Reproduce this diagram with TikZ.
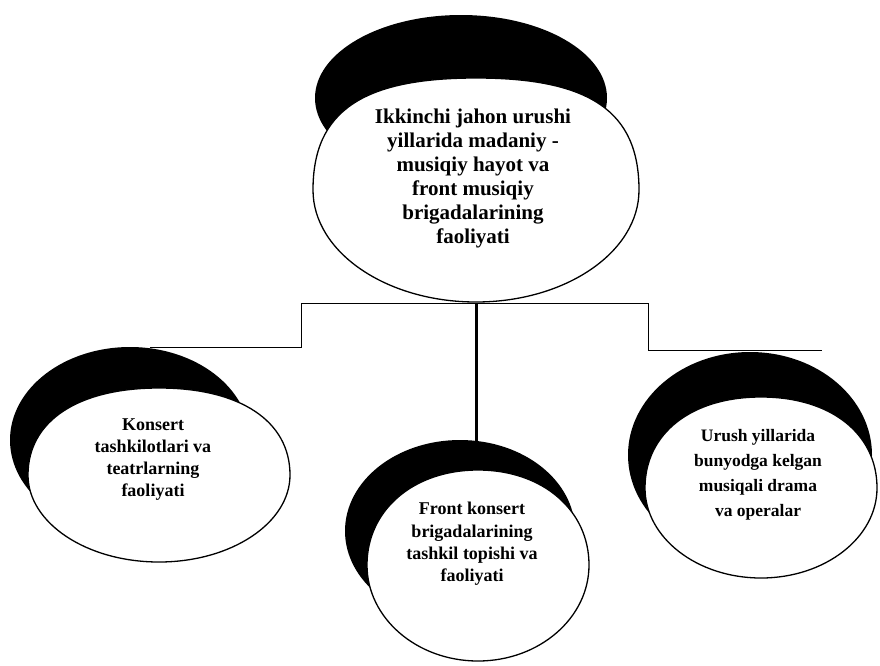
\documentclass[tikz,border=0pt]{standalone}
\usepackage{fontspec}
\setmainfont{Liberation Serif}
\begin{document}
\begin{tikzpicture}[x=1pt,y=-1pt,
  shadowfill/.style={fill=black,draw=none},
  whitebody/.style={fill=white,draw=black,line width=1.3pt},
  thinline/.style={draw=black,line width=1pt},
  thickline/.style={draw=black,line width=3pt},
  bubbletext/.style={align=center,font=\bfseries,inner sep=0pt}]
\newcommand\WhiteShape[6]{%
  \path[whitebody] ({#1-#3},#2)
    .. controls ({#1-#3},{#2-#6*#4}) and ({#1-#6*#3},{#2-#4}) .. ({#1},{#2-#4})
    .. controls ({#1+#6*#3},{#2-#4}) and ({#1+#3},{#2-#6*#4}) .. ({#1+#3},#2)
    .. controls ({#1+#3},{#2+0.552*#5}) and ({#1+0.552*#3},{#2+#5}) .. ({#1},{#2+#5})
    .. controls ({#1-0.552*#3},{#2+#5}) and ({#1-#3},{#2+0.552*#5}) .. ({#1-#3},#2) -- cycle;}
\fill[white] (0,0) rectangle (880,665);
\useasboundingbox (0,0) rectangle (880,665);

% connector endpoints
\coordinate (topB) at (476,303);
\coordinate (tl) at (301,303);
\coordinate (tr) at (648,303);
\coordinate (lend) at (150,347);
\coordinate (rend) at (822,350);
\coordinate (midT) at (476,441);

% connectors
\draw[thinline] (lend) -| (tl) -- (tr) |- (rend);
\draw[thickline] (topB) -- (midT);

% top bubble
\fill[shadowfill] (461,98) ellipse [x radius=146pt, y radius=83pt];
\WhiteShape{476}{190}{163}{112}{112}{0.7}
\node[bubbletext,font=\bfseries\fontsize{21}{24}\selectfont] (top) at (473,178)
  {Ikkinchi jahon urushi\\yillarida madaniy -\\musiqiy hayot va\\front musiqiy\\brigadalarining\\faoliyati};

% left bubble
\fill[shadowfill] (130,440) ellipse [x radius=120pt, y radius=93pt];
\WhiteShape{159}{475}{131}{87}{87}{0.62}
\node[bubbletext,font=\bfseries\fontsize{18}{22}\selectfont] (left) at (153,460)
  {Konsert\\tashkilotlari va\\teatrlarning\\faoliyati};

% middle bubble
\fill[shadowfill] (460,531) ellipse [x radius=115pt, y radius=91pt];
\WhiteShape{478}{565}{111}{95}{96}{0.58}
\node[bubbletext,font=\bfseries\fontsize{18}{22.3}\selectfont] (mid) at (472,544)
  {Front konsert\\brigadalarining\\tashkil topishi va\\faoliyati};

% right bubble
\fill[shadowfill] (750,455) ellipse [x radius=122pt, y radius=103pt];
\WhiteShape{761}{488}{116}{91}{90}{0.6}
\node[bubbletext,font=\bfseries\fontsize{17.5}{25}\selectfont] (right) at (758,475)
  {Urush yillarida\\bunyodga kelgan\\musiqali drama\\va operalar};
\end{tikzpicture}
\end{document}
